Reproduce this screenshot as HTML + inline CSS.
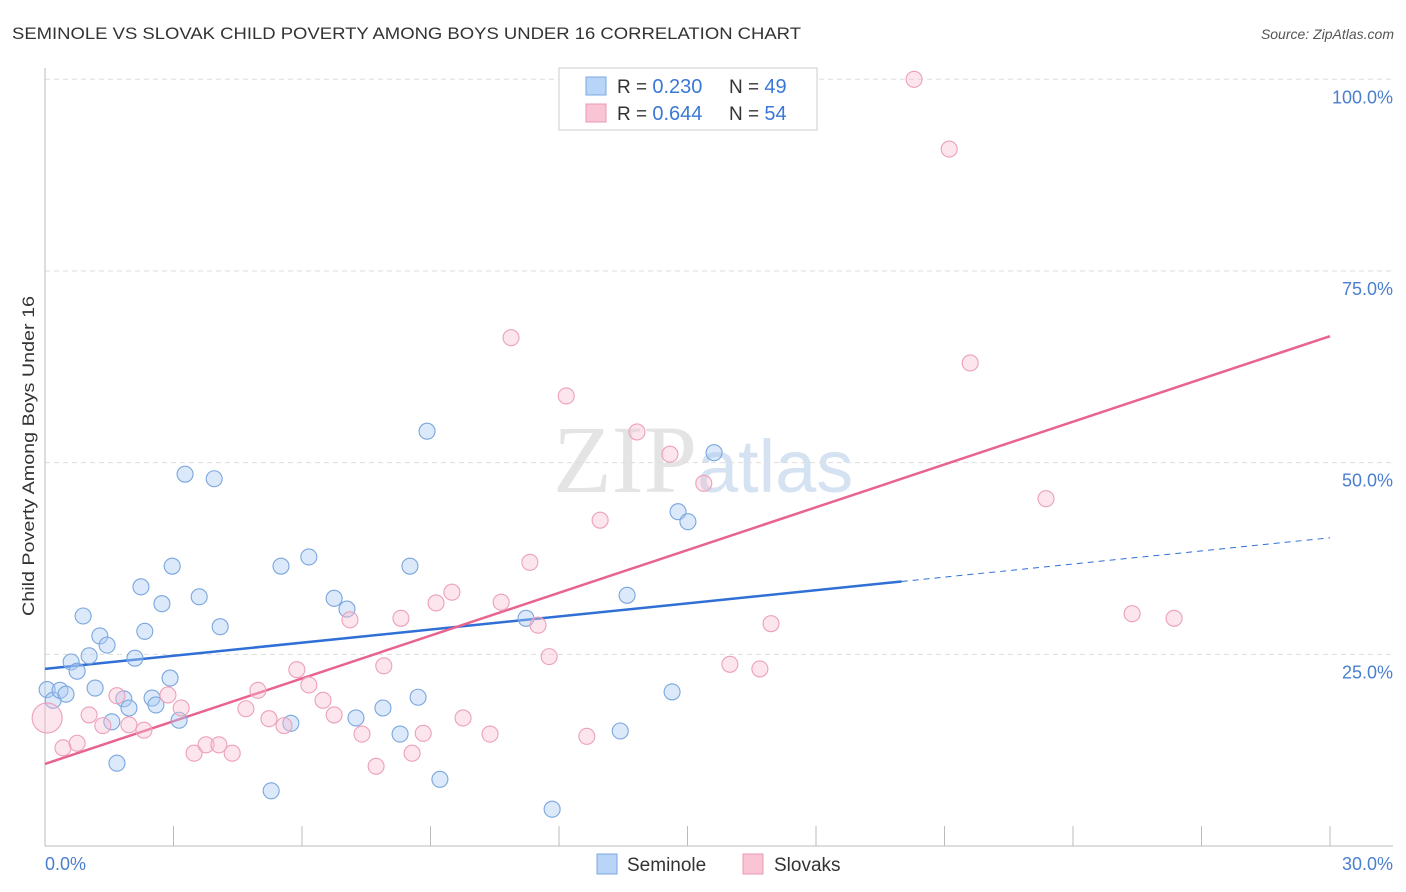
<!DOCTYPE html>
<html><head><meta charset="utf-8"><style>
body{margin:0;background:#fff;font-family:"Liberation Sans",sans-serif;}
svg{display:block}
</style></head><body>
<svg id="chart" width="1406" height="892">
<text x="12" y="39" font-size="17" fill="#333" textLength="789" lengthAdjust="spacingAndGlyphs">SEMINOLE VS SLOVAK CHILD POVERTY AMONG BOYS UNDER 16 CORRELATION CHART</text>
<text x="1394" y="39" font-size="14" fill="#555" font-style="italic" text-anchor="end">Source: ZipAtlas.com</text>
<text x="553" y="492" font-size="96" fill="#e4e4e4" font-family="Liberation Serif,serif">ZIP<tspan fill="#d4e2f2" font-family="Liberation Sans,sans-serif" font-size="74">atlas</tspan></text>
<text transform="translate(34,456) rotate(-90)" font-size="17" fill="#333" text-anchor="middle" textLength="320" lengthAdjust="spacingAndGlyphs">Child Poverty Among Boys Under 16</text>
<g id="grid"></g><g id="axes"></g><g id="trend"></g><g id="pts"></g>
<g>
<rect x="559" y="68" width="258" height="62" fill="#fff" stroke="#ccc"/>
<rect x="586" y="77" width="20" height="18" fill="#b8d4f6" stroke="#7aa8e0"/>
<rect x="586" y="104" width="20" height="18" fill="#f9c4d4" stroke="#ea98b4"/>
<text x="617" y="93" font-size="19" fill="#333">R = <tspan fill="#3a78d6" font-size="20">0.230</tspan><tspan x="729">N = </tspan><tspan fill="#3a78d6" font-size="20">49</tspan></text>
<text x="617" y="120" font-size="19" fill="#333">R = <tspan fill="#3a78d6" font-size="20">0.644</tspan><tspan x="729">N = </tspan><tspan fill="#3a78d6" font-size="20">54</tspan></text>
</g>
<g>
<rect x="597" y="854" width="20" height="20" fill="#b8d4f6" stroke="#7aa8e0"/>
<text x="627" y="871" font-size="19" fill="#333">Seminole</text>
<rect x="743" y="854" width="20" height="20" fill="#f9c4d4" stroke="#ea98b4"/>
<text x="774" y="871" font-size="19" fill="#333">Slovaks</text>
</g>
</svg>
<script>
const xTickLabels=["0.0%","30.0%"];
const yTicks=[25,50,75,100];
const yTickLabels=["25.0%","50.0%","75.0%","100.0%"];
const blueX=[0.05,0.19,0.35,0.49,0.61,0.75,0.89,1.03,1.17,1.28,1.45,1.56,1.68,1.84,1.96,2.10,2.24,2.33,2.50,2.59,2.73,2.92,2.97,3.13,3.27,3.60,3.95,4.09,5.51,5.74,5.28,6.16,6.75,7.05,7.26,7.89,8.29,8.52,8.71,8.92,9.22,11.23,11.84,13.43,13.59,14.64,14.78,15.01,15.62];
const blueY=[20.4,19.0,20.3,19.8,24.0,22.8,30.0,24.8,20.6,27.4,26.2,16.2,10.8,19.2,18.0,24.5,33.8,28.0,19.3,18.4,31.6,21.9,36.5,16.4,48.5,32.5,47.9,28.6,36.5,16.0,7.2,37.7,32.3,30.9,16.7,18.0,14.6,36.5,19.4,54.1,8.7,29.7,4.8,15.0,32.7,20.1,43.6,42.3,51.3];
const pinkX=[0.05,0.42,0.75,1.03,1.35,1.68,1.96,2.31,2.87,3.18,3.48,3.76,4.06,4.37,4.69,4.97,5.23,5.58,5.88,6.16,6.49,6.75,7.12,7.40,7.73,7.91,8.31,8.57,8.83,9.13,9.50,9.76,10.39,10.65,11.32,11.51,11.77,12.17,12.65,12.96,13.82,14.59,15.38,15.99,16.69,16.95,10.88,20.29,21.11,21.60,23.37,25.38,26.36];
const pinkY=[16.7,12.8,13.4,17.1,15.7,19.6,15.8,15.1,19.7,18.0,12.1,13.2,13.2,12.1,17.9,20.3,16.6,15.7,23.0,21.0,19.0,17.1,29.5,14.6,10.4,23.5,29.7,12.1,14.7,31.7,33.1,16.7,14.6,31.8,37.0,28.8,24.7,58.7,14.3,42.5,54.0,51.1,47.3,23.7,23.1,29.0,66.3,100.0,90.9,63.0,45.3,30.3,29.7];
const blueTrend=[23.1,40.2];
const pinkTrend=[10.7,66.5];
const NS="http://www.w3.org/2000/svg";
const X=v=>45+v/30*1285, Y=v=>846-v/100*766.7;
function mk(p,t,a){const e=document.createElementNS(NS,t);for(const k in a)e.setAttribute(k,a[k]);document.getElementById(p).appendChild(e);return e;}
yTicks.forEach((t,i)=>{
 const g=mk('grid','line',{x1:45,x2:1393,y1:Y(t),y2:Y(t),stroke:'#ddd','stroke-dasharray':'5,4'});
 
 
 const l=mk('grid','text',{x:1393,y:Y(t)+24,'font-size':18,fill:'#4a7fd0','text-anchor':'end'});
 l.textContent=yTickLabels[i];
 
 
});
let a=mk('axes','line',{x1:45,x2:45,y1:68,y2:846,stroke:'#bbb'});


a=mk('axes','line',{x1:45,x2:1393,y1:846,y2:846,stroke:'#bbb'});


for(let i=1;i<=10;i++){const t=mk('axes','line',{x1:X(i*3),x2:X(i*3),y1:826,y2:846,stroke:'#bbb'});
 
 }
[[0,'start',45],[30,'end',1393]].forEach((d,i)=>{const t=mk('axes','text',{x:d[2],y:870,'font-size':18,fill:'#4a7fd0','text-anchor':d[1]});t.textContent=xTickLabels[i];
 
 });
const bt=v=>blueTrend[0]+(blueTrend[1]-blueTrend[0])*v/30;
let tl=mk('trend','line',{x1:X(0),y1:Y(bt(0)),x2:X(20),y2:Y(bt(20)),stroke:'#2f6fd6','stroke-width':2.5});


tl=mk('trend','line',{x1:X(20),y1:Y(bt(20)),x2:X(30),y2:Y(bt(30)),stroke:'#2f6fd6','stroke-width':1,'stroke-dasharray':'6,5'});


tl=mk('trend','line',{x1:X(0),y1:Y(pinkTrend[0]),x2:X(30),y2:Y(pinkTrend[1]),stroke:'#e8648e','stroke-width':2.5});


blueX.forEach((x,i)=>{const c=mk('pts','circle',{cx:X(x),cy:Y(blueY[i]),r:8,fill:'rgba(170,202,242,0.42)',stroke:'#7aa6de','stroke-width':1.1});
 
 });
pinkX.forEach((x,i)=>{const c=mk('pts','circle',{cx:X(x),cy:Y(pinkY[i]),r:i===0?15:8,fill:'rgba(248,190,208,0.4)',stroke:'#eca0ba','stroke-width':1.1});
 
 });
</script>
</body></html>
